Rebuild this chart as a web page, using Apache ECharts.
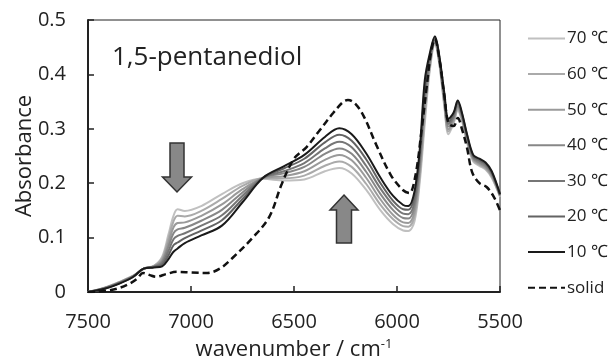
<!DOCTYPE html>
<html><head><meta charset="utf-8">
<script src="https://cdn.jsdelivr.net/npm/echarts@6/dist/echarts.min.js"></script>
<style>html,body{margin:0;padding:0;background:#fff}#c{width:616px;height:361px}</style>
</head><body><div id="c"></div>
<script>
// wavenumber grid (cm-1) for temperature spectra
var wavenumbers = [7500,7420,7350,7280,7230,7180,7140,7110,7085,7065,7030,6950,6850,6750,6650,6550,6450,6350,6280,6220,6150,6080,6020,5970,5945,5915,5890,5865,5840,5816,5795,5770,5750,5725,5705,5685,5660,5630,5600,5570,5540,5500];
var t70 = [0,.008,.018,.030,.042,.048,.065,.105,.140,.152,.149,.158,.180,.200,.208,.205,.207,.222,.228,.218,.188,.150,.125,.113,.112,.130,.200,.310,.410,.455,.420,.340,.290,.310,.333,.315,.275,.240,.232,.225,.210,.175];
var t60 = [0,.008,.018,.030,.043,.048,.062,.098,.130,.140,.139,.149,.171,.195,.209,.209,.214,.232,.240,.230,.199,.160,.134,.121,.120,.139,.210,.323,.415,.458,.422,.344,.295,.313,.336,.318,.278,.242,.234,.227,.212,.176];
var t50 = [0,.007,.017,.029,.043,.047,.059,.090,.119,.127,.128,.140,.161,.189,.209,.213,.222,.243,.252,.242,.210,.170,.142,.128,.127,.148,.220,.336,.420,.460,.425,.348,.299,.317,.339,.320,.280,.244,.236,.229,.214,.177];
var t40 = [0,.007,.017,.029,.043,.047,.056,.083,.108,.115,.118,.131,.151,.183,.210,.218,.230,.254,.264,.254,.221,.180,.151,.136,.135,.157,.230,.350,.425,.462,.428,.352,.304,.320,.342,.323,.283,.246,.238,.231,.216,.178];
var t30 = [0,.007,.016,.029,.043,.046,.053,.075,.097,.103,.108,.122,.141,.177,.210,.222,.237,.264,.276,.266,.232,.190,.160,.144,.143,.166,.240,.363,.430,.465,.430,.357,.309,.323,.346,.325,.285,.248,.241,.234,.218,.178];
var t20 = [0,.006,.016,.028,.043,.046,.050,.067,.086,.091,.099,.113,.132,.171,.210,.227,.245,.275,.289,.278,.244,.200,.168,.152,.151,.176,.250,.376,.435,.468,.432,.361,.313,.327,.349,.328,.288,.250,.243,.236,.220,.179];
var t10 = [0,.006,.015,.028,.043,.045,.047,.060,.074,.080,.090,.104,.122,.165,.210,.231,.252,.285,.301,.290,.255,.210,.177,.160,.158,.185,.260,.390,.440,.470,.435,.365,.318,.330,.352,.330,.290,.252,.245,.238,.222,.180];
// solid sample
var solidX = [7500,7420,7360,7300,7260,7233,7200,7170,7120,7070,7000,6920,6860,6800,6700,6620,6560,6500,6440,6380,6310,6260,6238,6200,6160,6100,6030,5970,5940,5910,5880,5855,5835,5816,5795,5770,5750,5725,5705,5685,5660,5635,5600,5565,5530,5500];
var solidY = [0,.002,.006,.015,.025,.035,.031,.028,.033,.037,.036,.035,.043,.062,.100,.138,.198,.245,.266,.295,.329,.350,.353,.345,.322,.270,.215,.187,.182,.215,.300,.380,.440,.465,.430,.360,.310,.305,.320,.300,.265,.220,.200,.193,.175,.150];
var seriesNames = ['70 ℃','60 ℃','50 ℃','40 ℃','30 ℃','20 ℃','10 ℃','solid'];
var xTicks = [7500,7000,6500,6000,5500];
var yTicks = [0,0.1,0.2,0.3,0.4,0.5];

var FONT = 'Open Sans';
var temps = [t70,t60,t50,t40,t30,t20,t10];
var colors = ['#c0c0c0','#aaaaaa','#9a9a9a','#878787','#767676','#636363','#1a1a1a'];
function pairs(xs, ys){ return xs.map(function(x,i){return [x, ys[i]];}); }
var series = [];
temps.forEach(function(arr, i){
  series.push({name: seriesNames[i], type:'line', data: pairs(wavenumbers, arr), smooth: 0.35, showSymbol:false, symbol:'none',
    lineStyle:{color: colors[i], width: 2}, itemStyle:{color: colors[i]}, z: 2+i});
});
series.push({name: seriesNames[7], type:'line', data: pairs(solidX, solidY), smooth: 0.35, showSymbol:false, symbol:'none',
  lineStyle:{color:'#111', width:2.5, type:[7,4]}, itemStyle:{color:'#111'}, z: 10});

var chart = echarts.init(document.getElementById('c'), null, {renderer:'canvas'});
function arrowDown(cx, top, bottom){
  var sw=7, hw=14.5, hTop=bottom-15;
  return [[cx-sw,top],[cx+sw,top],[cx+sw,hTop],[cx+hw,hTop],[cx,bottom],[cx-hw,hTop],[cx-sw,hTop]];
}
function arrowUp(cx, top, bottom){
  var sw=7.5, hw=14, hBot=top+15;
  return [[cx,top],[cx+hw,hBot],[cx+sw,hBot],[cx+sw,bottom],[cx-sw,bottom],[cx-sw,hBot],[cx-hw,hBot]];
}
chart.setOption({
  animation:false,
  backgroundColor:'#fff',
  grid:{left:88, right:116, top:20, bottom:69, show:true, borderColor:'#222', borderWidth:1, outerBoundsMode:'none', containLabel:false},
  xAxis:{type:'value', inverse:true, min:5500, max:7500, interval:500,
    name:'wavenumber / cm{sup|-1}', nameLocation:'middle', nameGap:46, nameMoveOverlap:false,
    nameTextStyle:{fontFamily:FONT, fontSize:22, color:'#222', rich:{sup:{fontFamily:FONT, fontSize:13, color:'#222', verticalAlign:'top', padding:[0,0,10,0]}}},
    axisLine:{lineStyle:{color:'#222', width:2}},
    axisTick:{inside:true, length:6, lineStyle:{color:'#222', width:1.5}},
    axisLabel:{fontFamily:FONT, fontSize:20, color:'#222', margin:20, formatter:function(v){return String(v);}},
    splitLine:{show:false}},
  yAxis:{type:'value', min:0, max:0.5, interval:0.1,
    name:'Absorbance', nameLocation:'middle', nameGap:52, nameMoveOverlap:false,
    nameTextStyle:{fontFamily:FONT, fontSize:22, color:'#222'},
    axisLine:{show:true, lineStyle:{color:'#222', width:2}},
    axisTick:{show:true, inside:true, length:6, lineStyle:{color:'#222', width:1.5}},
    axisLabel:{fontFamily:FONT, fontSize:20, color:'#222', margin:22},
    splitLine:{show:false}},
  legend:{orient:'vertical', left:522, top:25, itemWidth:37, itemHeight:17, itemGap:18.6,
    data: seriesNames, itemStyle:{opacity:0, borderWidth:0},
    textStyle:{fontFamily:FONT, fontSize:17, lineHeight:17, color:'#222', padding:[0,0,0,-3]}},
  graphic:[
    {type:'text', left:112, top:45, style:{text:'1,5-pentanediol', fontFamily:FONT, fontSize:26, fill:'#222'}},
    {type:'polygon', shape:{points: arrowDown(177,143,192)}, style:{fill:'#888', stroke:'#333', lineWidth:1.5}, z:20},
    {type:'polygon', shape:{points: arrowUp(344,195,243)}, style:{fill:'#888', stroke:'#333', lineWidth:1.5}, z:20}
  ],
  series: series
});
</script></body></html>
